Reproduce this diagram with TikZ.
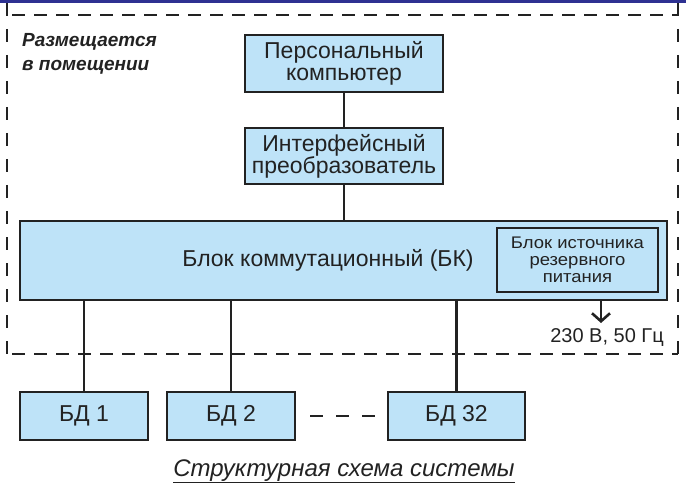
\documentclass[tikz,border=0pt]{standalone}
\usepackage{fontspec}
\setmainfont{Liberation Sans}
\newfontfamily\widefont[FakeStretch=1.1]{Liberation Sans}
\usetikzlibrary{arrows.meta}
\definecolor{boxfill}{RGB}{190,227,248}
\definecolor{linecol}{RGB}{34,34,34}
\definecolor{barblue}{RGB}{46,49,146}
\begin{document}
\begin{tikzpicture}[x=1pt,y=-1pt,
  blk/.style={draw=linecol, line width=2.6pt, fill=boxfill, inner sep=0pt, align=center, text=linecol, font=\fontsize{23}{22}\selectfont},
  conn/.style={draw=linecol, line width=2.2pt},
  hframe/.style={draw=linecol, line width=2.6pt, dash pattern=on 13pt off 9pt},
  vframe/.style={draw=linecol, line width=2.6pt, dash pattern=on 13pt off 13pt},
  lbl/.style={text=linecol, inner sep=0pt},
  roomtxt/.style={lbl, anchor=base west, font=\fontsize{19}{25}\selectfont\bfseries\itshape}]
\useasboundingbox (0,0) rectangle (686,500);
\fill[barblue] (0,0) rectangle (686,3);
% frame
\coordinate (fNW) at (7,15);
\coordinate (fNE) at (678,15);
\coordinate (fSW) at (7,354);
\coordinate (fSE) at (678,354);
\draw[hframe] ([xshift=5pt]fNW) -- (fNE);
\draw[hframe] ([xshift=5pt]fSW) -- (fSE);
\draw[vframe] ([yshift=12pt]fNW) -- (fSW);
\draw[vframe] ([yshift=12pt]fNE) -- (fSE);
\node[roomtxt] (room1) at (22,47) {Размещается};
\node[roomtxt] (room2) at (22,71) {в помещении};
% boxes
\node[blk, minimum width=198pt, minimum height=57pt] (pc) at (344,63.5) {Персональный\\компьютер};
\node[blk, minimum width=198pt, minimum height=56pt] (intf) at (344,156) {Интерфейсный\\преобразователь};
\node[blk, minimum width=647pt, minimum height=79pt] (bk) at (343.5,260.5) {};
\node[lbl, font=\fontsize{23}{25}\selectfont] (bklabel) at (328,260) {Блок коммутационный (БК)};
\node[blk, minimum width=161pt, minimum height=64pt, font=\widefont\fontsize{16.8}{17}\selectfont] (psu) at (577.5,260) {Блок источника\\резервного\\питания};
\node[blk, minimum width=128pt, minimum height=48pt] (bd1) at (84,416) {БД 1};
\node[blk, minimum width=128pt, minimum height=48pt] (bd2) at (231,416) {БД 2};
\node[blk, minimum width=137pt, minimum height=48pt] (bd32) at (456.5,416) {БД 32};
% connectors
\draw[conn] (pc) -- (intf);
\draw[conn] (intf) -- (intf |- bk.north);
\draw[conn] (bd1) -- (bd1 |- bk.south);
\draw[conn] (bd2) -- (bd2 |- bk.south);
\draw[conn] (bd32) -- (bd32 |- bk.south);
\coordinate (dA) at (310,416);
\coordinate (dB) at (375,416);
\draw[conn, dash pattern=on 13pt off 13pt] (dA) -- (dB);
\coordinate (arrtop) at (601,300);
\coordinate (arrend) at (601,323);
\draw[conn, -{Straight Barb[length=8pt,width=18pt,line width=2.6pt]}] (arrtop) -- (arrend);
\node[lbl, anchor=base east, font=\fontsize{20}{22}\selectfont] (volt) at (664,342) {230 В, 50 Гц};
\node[lbl, anchor=base, font=\fontsize{24}{26}\selectfont\itshape] (caption) at (344,476) {\underline{Структурная схема системы}};
\end{tikzpicture}
\end{document}
